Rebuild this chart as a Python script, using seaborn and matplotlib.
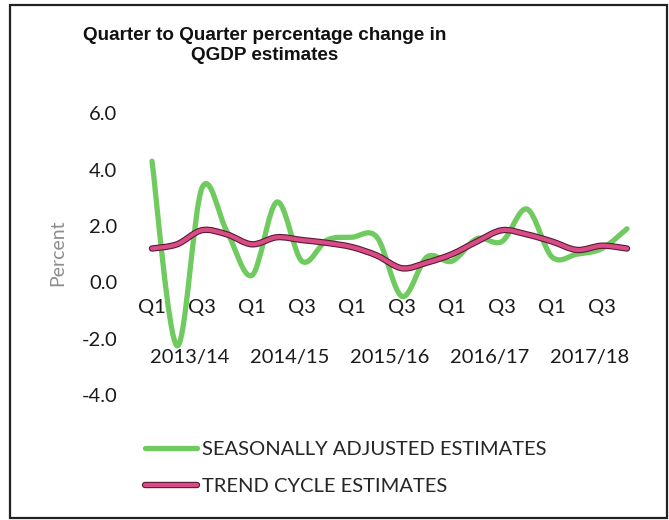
import numpy as np
import matplotlib
matplotlib.use("Agg")
import matplotlib.pyplot as plt
import matplotlib.patheffects as pe
from matplotlib.path import Path
from matplotlib.patches import PathPatch, Rectangle
from matplotlib.lines import Line2D
import seaborn as sns

# data (percent, quarter to quarter)
quarters = ["Q1", "Q2", "Q3", "Q4"] * 5
years = ["2013/14", "2014/15", "2015/16", "2016/17", "2017/18"]
seasonally_adjusted = [4.3, -2.25, 3.35, 1.8, 0.25, 2.85, 0.75, 1.5, 1.6, 1.6,
                       -0.5, 0.9, 0.75, 1.55, 1.45, 2.6, 0.9, 1.0, 1.2, 1.9]
trend_cycle = [1.2, 1.35, 1.85, 1.7, 1.35, 1.6, 1.5, 1.4, 1.25, 0.95,
               0.5, 0.7, 1.0, 1.45, 1.85, 1.7, 1.45, 1.15, 1.3, 1.2]
y_ticks = [-4.0, -2.0, 0.0, 2.0, 4.0, 6.0]

GREEN = "#6fcb5f"
PINK = "#d84c86"
PINK_EDGE = "#5c1836"
LABEL_FONT = "Lato"


def smooth_path(xs, ys):
    """Excel-like smoothed line: cubic bezier through every data point."""
    pts = np.column_stack([xs, ys]).astype(float)
    ext = np.vstack([pts[0], pts, pts[-1]])
    verts = [pts[0]]
    codes = [Path.MOVETO]
    for i in range(len(pts) - 1):
        p0, p1, p2, p3 = ext[i], ext[i + 1], ext[i + 2], ext[i + 3]
        verts += [p1 + (p2 - p0) / 6.0, p2 - (p3 - p1) / 6.0, p2]
        codes += [Path.CURVE4] * 3
    return Path(verts, codes)


sns.set_theme(style="white")
plt.rcParams["font.family"] = [LABEL_FONT, "DejaVu Sans"]

fig = plt.figure(figsize=(6.69, 5.2), dpi=100)
ax = fig.add_axes([0.2085, 0.2404, 0.7474, 0.5417])

x = np.arange(len(quarters))
green_fx = [pe.Normal()]
pink_fx = [pe.Stroke(linewidth=4.6, foreground=PINK_EDGE), pe.Normal()]

ax.add_patch(PathPatch(smooth_path(x, seasonally_adjusted), facecolor="none",
                       edgecolor=GREEN, lw=3.8, capstyle="round", joinstyle="round",
                       path_effects=green_fx))
ax.add_patch(PathPatch(smooth_path(x, trend_cycle), facecolor="none",
                       edgecolor=PINK, lw=3.0, capstyle="round", joinstyle="round",
                       path_effects=pink_fx))

ax.set_xlim(-0.5, len(quarters) - 0.5)
ax.set_ylim(min(y_ticks), max(y_ticks))
ax.set_yticks(y_ticks)
ax.set_yticklabels([f"{v:.1f}" for v in y_ticks])

ax.set_xticks(x)
ax.set_xticklabels([q if q in ("Q1", "Q3") else "" for q in quarters])
ax.spines["bottom"].set_position(("data", 0))
sns.despine(ax=ax, left=True, bottom=True)
ax.tick_params(axis="x", length=0, pad=12, labelsize=14.5, colors="#1a1a1a")
ax.tick_params(axis="y", length=0, pad=16, labelsize=14.5, colors="#1a1a1a")
ax.grid(False)

for k, yr in enumerate(years):
    ax.annotate(yr, xy=(4 * k + 1.5, 0), xycoords="data", xytext=(0, -54),
                textcoords="offset points", ha="center", va="center",
                fontsize=14.5, color="#1a1a1a")

fig.text(58 / 669, 1 - 253 / 520, "Percent", rotation=90, ha="center", va="center",
         fontsize=14, color="#8e8e8e")

fig.text(265 / 669, 1 - 45.5 / 520, "Quarter to Quarter percentage change in\nQGDP estimates",
         ha="center", va="center", fontsize=13.6, fontweight="bold",
         family=["Liberation Sans", "DejaVu Sans"], linespacing=1.3, color="#111111")

handles = [
    Line2D([], [], color=GREEN, lw=3.8, solid_capstyle="round", path_effects=green_fx),
    Line2D([], [], color=PINK, lw=3.0, solid_capstyle="round", path_effects=pink_fx),
]
fig.legend(handles, ["SEASONALLY ADJUSTED ESTIMATES", "TREND CYCLE ESTIMATES"],
           loc="center left", bbox_to_anchor=(145 / 669, 1 - 468 / 520),
           frameon=False, fontsize=14.5, handlelength=2.6, handletextpad=0.25,
           labelspacing=0.95, borderpad=0, borderaxespad=0)

# outer frame round the whole chart
fig.add_artist(Rectangle((10 / 669, 1 - 518 / 520), 657 / 669, 513 / 520,
                         transform=fig.transFigure, fill=False, edgecolor="#222222",
                         lw=1.6))

fig.savefig("out.png", dpi=100)
